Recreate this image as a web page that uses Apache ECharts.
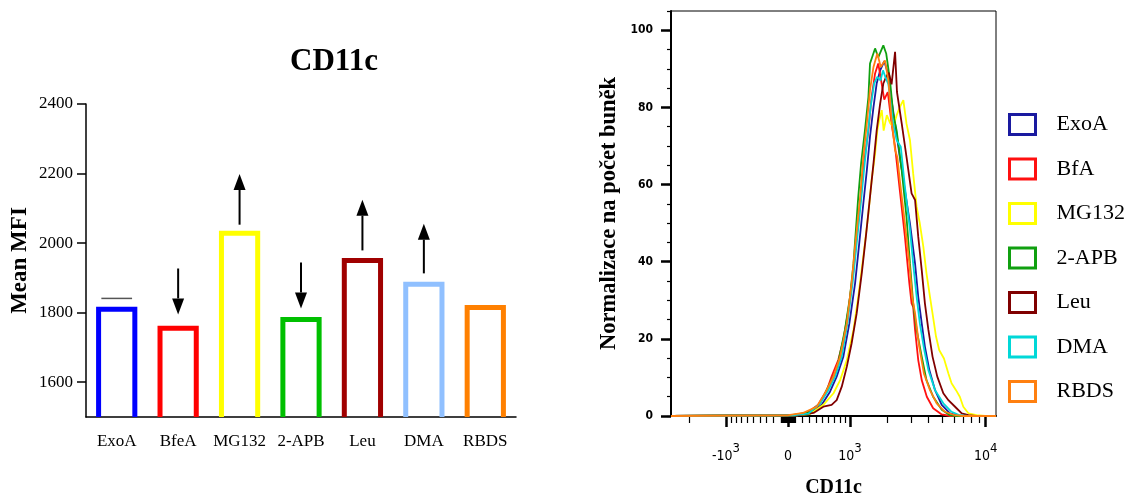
<!DOCTYPE html>
<html>
<head>
<meta charset="utf-8">
<script src="https://cdn.jsdelivr.net/npm/echarts@6/dist/echarts.min.js"></script>
<style>
html, body { margin: 0; padding: 0; background: #fff; }
#chart { width: 1138px; height: 500px; }
</style>
</head>
<body>
<div id="chart"></div>
<script>
// ---- left panel: mean MFI bars ----
var categories = ['ExoA', 'BfeA', 'MG132', '2-APB', 'Leu', 'DMA', 'RBDS'];
var meanMfi = [1810, 1755, 2028, 1780, 1950, 1882, 1815];
var barColors = ['#0000ff', '#ff0000', '#ffff00', '#00c000', '#a00000', '#90c0ff', '#ff8000'];
var arrowFrom = [null, 1927, 2053, 1944, 1979, 1913, null];
var arrowTo = [null, 1795, 2199, 1812, 2125, 2056, null];
var errorCap = [1841, null, null, null, null, null, null];
var mfiTicks = [1600, 1800, 2000, 2200, 2400];

// ---- right panel: CD11c histograms, [channel, % of max] ----
var histNames = ['ExoA', 'BfA', 'MG132', '2-APB', 'Leu', 'DMA', 'RBDS'];
var histColors = ['#1a1aa0', '#ff1010', '#ffff00', '#10a010', '#800000', '#00d8d8', '#ff8010'];
var exoaHist = [[0,0],[395,0.2],[438,0.6],[475,2.9],[501,6.3],[522,10.2],[543,15.4],[562,24],[580,34.4],[593,44.7],[606,55.1],[617,63.7],[627,72.4],[638,80.1],[648,86.2],[659,89.6],[672,92],[683,89],[690,84.5],[706,75.8],[721,67.2],[737,58.5],[753,49.9],[769,39.5],[779,30.9],[790,24],[800,18],[814,11.9],[832,6.7],[853,2.9],[879,0.7],[910,0],[1024,0]];
var bfaHist = [[0,0],[385,0.2],[428,0.8],[464,2.9],[491,6.7],[506,10.2],[527,14.5],[543,19.7],[559,27.5],[575,37.8],[585,46.5],[598,56.8],[608,65.5],[622,74],[632,82.7],[643,88.8],[653,91.4],[662,87],[672,82],[683,84],[695,75.8],[706,69.8],[721,58.5],[737,46.5],[751,34.4],[758,29.2],[763,28.3],[769,22.3],[779,14.5],[790,9.3],[806,5],[826,2],[853,0.4],[880,0],[1024,0]];
var mg132Hist = [[0,0],[400,0.2],[438,0.5],[480,2.9],[512,5.9],[533,9.3],[554,14.5],[575,22.3],[590,30.9],[606,41.3],[622,52.5],[632,61.1],[643,68],[650,74],[656,76.7],[664,79.3],[670,74],[680,78],[690,76],[700,75],[711,78],[721,80.1],[732,81.9],[742,75.8],[753,71.5],[763,62.9],[774,54.2],[784,49.9],[795,43.9],[805,37],[816,30.9],[824,26.6],[835,20.6],[845,17.1],[860,14.9],[874,11],[884,8.5],[898,6.7],[910,5],[921,2.4],[937,0.7],[963,0.2],[990,0],[1024,0]];
var apbHist = [[0,0],[380,0.2],[438,1],[470,3.3],[490,6.7],[522,11.9],[548,22.3],[564,30.9],[575,39.5],[590,56.8],[599,65.5],[611,74],[622,82.7],[627,91.4],[643,95.3],[653,93],[669,96.1],[678,94],[690,87],[700,78.4],[711,74],[727,63.7],[742,51.6],[753,39.5],[763,29.2],[774,22.3],[790,15.4],[805,9.3],[826,5],[853,1.6],[879,0.2],[900,0],[1024,0]];
var leuHist = [[0,0],[405,0.2],[449,0.8],[480,2.4],[506,2.9],[522,4.1],[538,7.6],[554,12.8],[569,18.8],[585,26.6],[601,37],[614,46.5],[627,56.8],[638,65.5],[648,74],[659,81],[669,86.2],[678,88],[686,89],[695,86],[706,94.4],[712,84],[727,75.8],[742,67.2],[758,57.7],[769,56],[779,46.5],[790,37.8],[800,29.2],[811,22.3],[824,15.4],[839,10.2],[858,5.9],[874,4.1],[895,2.4],[916,0.7],[937,0.2],[960,0],[1024,0]];
var dmaHist = [[0,0],[390,0.2],[433,0.6],[470,3.3],[496,6.7],[517,10.2],[538,15.4],[556,24],[572,34.4],[585,44.7],[598,55.1],[608,63.7],[619,72.4],[629,80.1],[640,86.2],[650,87.9],[660,87],[668,89.6],[675,88],[685,86],[700,75.8],[711,71.5],[724,69.8],[737,59.4],[753,48.2],[763,39.5],[774,30.9],[784,24],[798,17.1],[811,11.9],[832,6.7],[858,3.3],[884,1.1],[910,0.2],[935,0],[1024,0]];
var rbdsHist = [[0,0],[370,0.2],[417,0.8],[459,2.4],[485,5.9],[512,10.2],[533,15.4],[554,24],[569,34.4],[580,43.9],[596,56.8],[606,67.2],[617,75.8],[627,84.5],[638,90.5],[650,94],[661,90.5],[674,92.2],[685,87],[695,76.7],[706,68.9],[713,67.2],[721,61.1],[737,49.9],[751,39.5],[760,30.9],[769,26.6],[782,18],[797,11],[816,6.7],[837,3.3],[863,1.1],[895,0.2],[920,0],[1024,0]];
var histData = [exoaHist, bfaHist, mg132Hist, apbHist, leuHist, dmaHist, rbdsHist];

var countTicks = [0, 20, 40, 60, 80, 100];
var cd11cMajor = [-1000, 0, 1000, 10000];
var cd11cLabels = [['-10', '3'], ['0', ''], ['10', '3'], ['10', '4']];
var cd11cMinor = [-2000, -900, -800, -700, -600, -500, -400, -300, -200, -100,
  -90, -80, -70, -60, -50, -40, -30, -20, -10, 10, 20, 30, 40, 50, 60, 70, 80, 90,
  100, 200, 300, 400, 500, 600, 700, 800, 900,
  2000, 3000, 4000, 5000, 6000, 7000, 8000, 9000];

// biexponential display: raw fluorescence -> channel (0..1024)
function toChannel(v) { return 368.7 + 198.6 * Math.asinh(v / 870); }

var serif = "'Liberation Serif', 'Times New Roman', serif";
var narrow = "'DejaVu Sans Condensed', 'Liberation Sans Narrow', sans-serif";

var chart = echarts.init(document.getElementById('chart'));

function renderBar(params, api) {
	var i = api.value(0);
	var top = api.coord([i, api.value(1)]);
	var base = api.coord([i, 1500]);
	var w = api.size([1, 0])[0] * 0.59;
	return {
		type: 'polyline',
		shape: { points: [[top[0] - w / 2, base[1]], [top[0] - w / 2, top[1]], [top[0] + w / 2, top[1]], [top[0] + w / 2, base[1]]] },
		style: { stroke: barColors[i], lineWidth: 5, fill: null, lineJoin: 'miter' }
	};
}

function renderArrow(params, api) {
	var a = api.coord([api.value(0), api.value(1)]);
	var b = api.coord([api.value(0), api.value(2)]);
	var dir = b[1] < a[1] ? -1 : 1;
	var neck = b[1] - dir * 16;
	return {
		type: 'group',
		children: [
			{ type: 'line', shape: { x1: a[0], y1: a[1], x2: a[0], y2: neck }, style: { stroke: '#000', lineWidth: 2 } },
			{ type: 'polygon', shape: { points: [[b[0], b[1]], [b[0] - 6, neck], [b[0] + 6, neck]] }, style: { fill: '#000' } }
		]
	};
}

function renderCap(params, api) {
	var p = api.coord([api.value(0), api.value(1)]);
	var w = api.size([1, 0])[0] * 0.5;
	return { type: 'line', shape: { x1: p[0] - w / 2, y1: p[1], x2: p[0] + w / 2, y2: p[1] }, style: { stroke: '#555', lineWidth: 1.5 } };
}

var arrowRows = [];
var capRows = [];
categories.forEach(function(c, i) {
	if (arrowFrom[i] != null) arrowRows.push([i, arrowFrom[i], arrowTo[i]]);
	if (errorCap[i] != null) capRows.push([i, errorCap[i]]);
});

var histSeries = histNames.map(function(n, i) {
	return {
		name: n,
		type: 'line',
		xAxisIndex: 1,
		yAxisIndex: 1,
		data: histData[i],
		showSymbol: false,
		symbol: 'none',
		lineStyle: { color: histColors[i], width: 1.8 },
		itemStyle: { color: histColors[i] },
		z: 3
	};
});

option = {
	backgroundColor: '#fff',
	animation: false,
	title: {
		text: 'CD11c',
		left: 329,
		top: 41,
		textAlign: 'center',
		textStyle: { fontFamily: serif, fontSize: 31, fontWeight: 'bold', color: '#000' }
	},
	legend: {
		orient: 'vertical',
		left: 1008,
		top: 113,
		padding: 0,
		itemWidth: 26,
		itemHeight: 20,
		itemGap: 21.5,
		icon: 'rect',
		textStyle: { fontFamily: serif, fontSize: 22, color: '#000', padding: [0, 0, 0, 16] },
		data: histNames.map(function(n, i) {
			return { name: n, itemStyle: { color: '#fff', borderColor: histColors[i], borderWidth: 3 } };
		})
	},
	grid: [
		{ left: 86, width: 430, top: 104, bottom: 83, outerBoundsMode: 'none' },
		{ left: 671, right: 142, top: 11, bottom: 84, outerBoundsMode: 'none', show: true, borderColor: '#000', borderWidth: 1, backgroundColor: 'transparent' }
	],
	xAxis: [
		{
			gridIndex: 0,
			type: 'category',
			data: categories,
			axisLine: { lineStyle: { color: '#000', width: 1.5 } },
			axisTick: { alignWithLabel: true, length: 9, lineStyle: { color: '#000', width: 1.5 } },
			axisLabel: { interval: 0, margin: 16, color: '#000', fontFamily: serif, fontSize: 17 }
		},
		{
			gridIndex: 1,
			type: 'value',
			position: 'bottom',
			min: 0,
			max: 1024,
			name: 'CD11c',
			nameLocation: 'middle',
			nameGap: 62,
			nameTextStyle: { fontFamily: serif, fontSize: 20, fontWeight: 'bold', color: '#000' },
			splitLine: { show: false },
			axisLine: { lineStyle: { color: '#000', width: 2 } },
			axisTick: { customValues: cd11cMajor.map(toChannel), length: 11, lineStyle: { color: '#000', width: 2.5 } },
			axisLabel: {
				customValues: cd11cMajor.map(toChannel),
				margin: 26,
				formatter: function(val) {
					for (var k = 0; k < cd11cMajor.length; k++) {
						if (Math.abs(toChannel(cd11cMajor[k]) - val) < 0.5) {
							return '{b|' + cd11cLabels[k][0] + '}' + (cd11cLabels[k][1] ? '{s|' + cd11cLabels[k][1] + '}' : '');
						}
					}
					return '';
				},
				rich: {
					b: { fontFamily: narrow, fontSize: 14, color: '#000', padding: [7, 0, 0, 0] },
					s: { fontFamily: narrow, fontSize: 13, color: '#000', verticalAlign: 'top' }
				}
			}
		},
		{
			gridIndex: 1,
			type: 'value',
			position: 'bottom',
			min: 0,
			max: 1024,
			splitLine: { show: false },
			axisLine: { show: false },
			axisTick: { customValues: cd11cMinor.map(toChannel), length: 7, lineStyle: { color: '#000', width: 1.2 } },
			axisLabel: { show: false }
		}
	],
	yAxis: [
		{
			gridIndex: 0,
			type: 'value',
			min: 1500,
			max: 2400,
			name: 'Mean MFI',
			nameLocation: 'middle',
			nameGap: 54,
			nameTextStyle: { fontFamily: serif, fontSize: 23, fontWeight: 'bold', color: '#000' },
			splitLine: { show: false },
			axisLine: { show: true, lineStyle: { color: '#000', width: 1.5 } },
			axisTick: { show: true, customValues: mfiTicks, length: 9, lineStyle: { color: '#000', width: 1.5 } },
			axisLabel: {
				customValues: mfiTicks,
				margin: 13,
				color: '#000',
				fontFamily: serif,
				fontSize: 17,
				formatter: function(v) { return String(v); }
			}
		},
		{
			gridIndex: 1,
			type: 'value',
			position: 'left',
			min: 0,
			max: 105,
			interval: 5,
			splitLine: { show: false },
			axisLine: { show: true, lineStyle: { color: '#000', width: 2 } },
			axisTick: { show: true, length: 4, lineStyle: { color: '#000', width: 1.2 } },
			axisLabel: { show: false }
		},
		{
			gridIndex: 1,
			type: 'value',
			position: 'left',
			min: 0,
			max: 105,
			name: 'Normalizace na počet buněk',
			nameLocation: 'middle',
			nameGap: 50,
			nameTextStyle: { fontFamily: serif, fontSize: 22.5, fontWeight: 'bold', color: '#000' },
			splitLine: { show: false },
			axisLine: { show: false },
			axisTick: { show: true, customValues: countTicks, length: 10, lineStyle: { color: '#000', width: 2.5 } },
			axisLabel: { customValues: countTicks, margin: 18, color: '#000', fontFamily: narrow, fontSize: 12, fontWeight: 'bold' }
		}
	],
	series: [
		{
			type: 'custom',
			xAxisIndex: 0,
			yAxisIndex: 0,
			renderItem: renderBar,
			encode: { x: 0, y: 1 },
			data: meanMfi.map(function(v, i) { return [i, v]; }),
			z: 2
		},
		{
			type: 'custom',
			xAxisIndex: 0,
			yAxisIndex: 0,
			renderItem: renderArrow,
			encode: { x: 0, y: [1, 2] },
			data: arrowRows,
			z: 3
		},
		{
			type: 'custom',
			xAxisIndex: 0,
			yAxisIndex: 0,
			renderItem: renderCap,
			encode: { x: 0, y: 1 },
			data: capRows,
			z: 3
		}
	].concat(histSeries)
};

chart.setOption(option);

window.onresize = function() {
	chart.resize();
};
</script>
</body>
</html>
